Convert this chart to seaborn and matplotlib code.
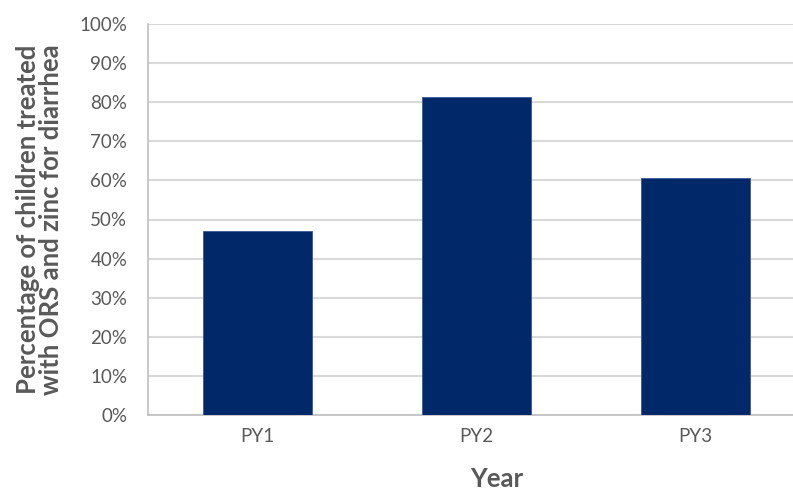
import matplotlib
matplotlib.use("Agg")
import matplotlib.pyplot as plt
import pandas as pd
import seaborn as sns
from matplotlib.ticker import PercentFormatter

years = ["PY1", "PY2", "PY3"]
tick_labels = ["PY1", "PY2", "PY3"]
pct_treated = [47.1, 81.4, 60.7]

df = pd.DataFrame({"year": years, "pct": pct_treated})

sns.set_style("white")
plt.rcParams["font.family"] = ["Lato", "DejaVu Sans"]

fig = plt.figure(figsize=(7.93, 4.92), dpi=100)
ax = fig.add_axes([148 / 793, 77 / 492, 1 - 148 / 793, 391 / 492])

sns.barplot(data=df, x="year", y="pct", color="#012869", width=0.5,
            edgecolor="#3a5a96", linewidth=0.6, saturation=1, ax=ax, zorder=3)

grey = "#595959"
ax.set_ylim(0, 100)
ax.set_xlim(-0.5, 2.445)
ax.set_yticks(range(0, 101, 10))
ax.yaxis.set_major_formatter(PercentFormatter(decimals=0))
ax.set_xticks(range(len(years)))
ax.set_xticklabels(tick_labels)
ax.grid(axis="y", color="#d9d9d9", linewidth=1.5, zorder=0)
ax.tick_params(axis="both", length=0, labelsize=13.5, colors=grey)
ax.tick_params(axis="y", pad=15)
ax.tick_params(axis="x", pad=9)
for side in ["top", "right"]:
    ax.spines[side].set_visible(False)
for side in ["left", "bottom"]:
    ax.spines[side].set_color("#bfbfbf")
    ax.spines[side].set_linewidth(1.2)

ax.set_xlabel("Year", fontsize=18.5, fontweight="bold", color=grey)
ax.xaxis.label.set_va("center")
ax.xaxis.set_label_coords(0.541, -0.163)
ax.set_ylabel("Percentage of children treated\nwith ORS and zinc for diarrhea",
              fontsize=18.5, fontweight="bold", color=grey, linespacing=0.95)
ax.yaxis.label.set_va("center")
ax.yaxis.set_label_coords(-0.168, 0.5)

fig.savefig("out.png", dpi=100)
